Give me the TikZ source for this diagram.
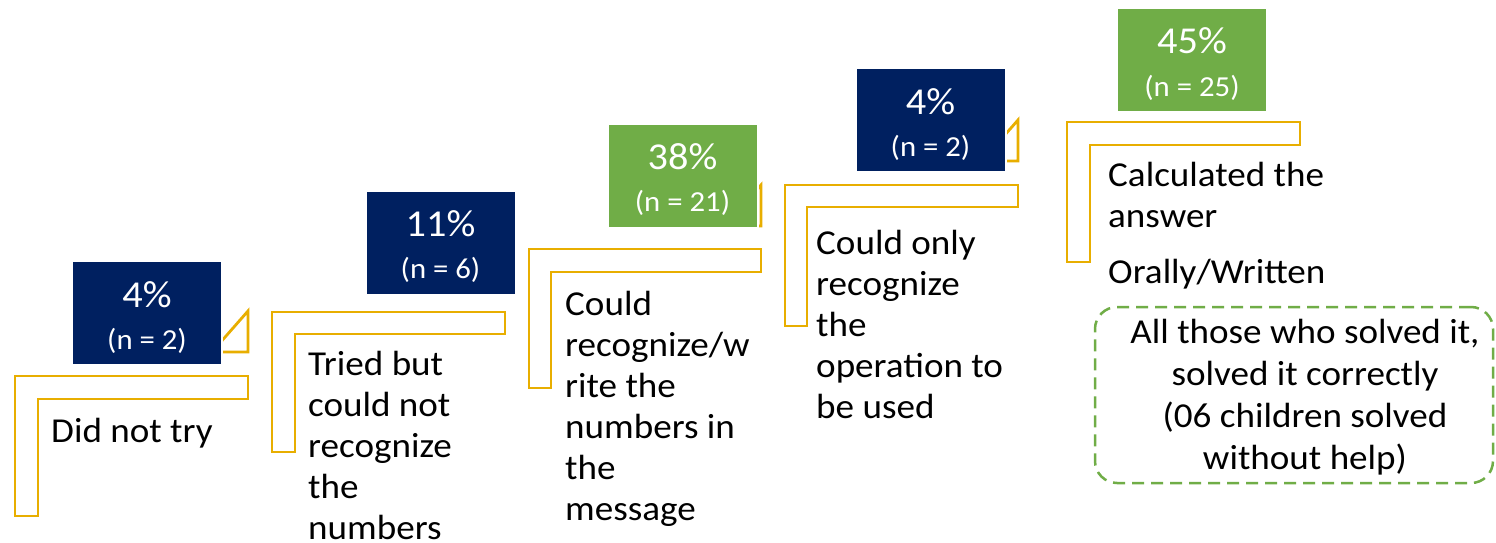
\documentclass[tikz,border=0pt]{standalone}
\usepackage{fontspec}
\setmainfont{Carlito}[FakeStretch=1.06]
\usepackage{tikz}

\definecolor{stepnavy}{HTML}{002060}
\definecolor{stepgreen}{HTML}{70AD47}
\definecolor{stepgold}{HTML}{E8AE00}

\begin{document}
\begin{tikzpicture}[x=1pt, y=-1pt,
  corner/.style={draw=stepgold, line width=2.8pt},
  pctbox/.style={minimum width=150pt, minimum height=104pt, inner sep=0pt, draw=white, line width=2pt},
  navybox/.style={pctbox, fill=stepnavy},
  greenbox/.style={pctbox, fill=stepgreen},
  pct/.style={text=white, font=\fontsize{38}{40}\selectfont, anchor=base, inner sep=0pt},
  cnt/.style={text=white, font=\fontsize{29}{32}\selectfont, anchor=base, inner sep=0pt},
  steptext/.style={font=\fontsize{35}{41}\selectfont, align=left, anchor=base west, inner sep=0pt},
  notetext/.style={font=\fontsize{35}{42}\selectfont, align=center, anchor=base, inner sep=0pt},
  noteframe/.style={draw=stepgreen, line width=2.5pt, dash pattern=on 12pt off 7pt, rounded corners=22pt,
                    minimum width=398pt, minimum height=176pt}]
\useasboundingbox (0,0) rectangle (1496,543);

% corner shapes and the small triangles under the boxes
\draw[corner] (15,376) -| (248,399) -| (38,516) -| cycle;
\draw[corner] (212,352) -- (248,311) -- (248,352) -- cycle;
\draw[corner] (272,312) -| (505,334) -| (295,452) -| cycle;
\draw[corner] (529,249) -| (761,272) -| (551,388) -| cycle;
\draw[corner] (725,226) -- (761,185) -- (761,226) -- cycle;
\draw[corner] (785,185) -| (1018,207) -| (807,326) -| cycle;
\draw[corner] (982,161) -- (1018,120) -- (1018,161) -- cycle;
\draw[corner] (1067,122) -| (1300,145) -| (1090,262) -| cycle;

% percentage boxes
\node[navybox] (b1) at (147,313) {};
\node[navybox] (b2) at (440.5,242.5) {};
\node[greenbox] (b3) at (682.5,175.5) {};
\node[navybox] (b4) at (930.5,120) {};
\node[greenbox] (b5) at (1192,60) {};

\node[pct] (p1) at ([yshift=-47pt]b1.north) {4\%};
\node[cnt] (n1) at ([yshift=-89pt]b1.north) {(n = 2)};
\node[pct] (p2) at ([yshift=-47pt]b2.north) {11\%};
\node[cnt] (n2) at ([yshift=-89pt]b2.north) {(n = 6)};
\node[pct] (p3) at ([yshift=-47pt]b3.north) {38\%};
\node[cnt] (n3) at ([yshift=-89pt]b3.north) {(n = 21)};
\node[pct] (p4) at ([yshift=-47pt]b4.north) {4\%};
\node[cnt] (n4) at ([yshift=-89pt]b4.north) {(n = 2)};
\node[pct] (p5) at ([yshift=-47pt]b5.north) {45\%};
\node[cnt] (n5) at ([yshift=-89pt]b5.north) {(n = 25)};

% step descriptions (anchored on the baseline of the last line)
\node[steptext] (t1) at (51,442) {Did not try};
\node[steptext] (t2) at (308,539) {Tried but\\could not\\recognize\\the\\numbers};
\node[steptext] (t3) at (565,520) {Could\\recognize/w\\rite the\\numbers in\\the\\message};
\node[steptext] (t4) at (816,418) {Could only\\recognize\\the\\operation to\\be used};
\node[steptext] (t5) at (1108,283) {Calculated the\\answer\\[15pt]Orally/Written};

% remark under the last step
\node[noteframe] (frame) at (1294,395) {};
\node[notetext] (note) at (1305,469) {All those who solved it,\\solved it correctly\\(06 children solved\\without help)};
\end{tikzpicture}
\end{document}
